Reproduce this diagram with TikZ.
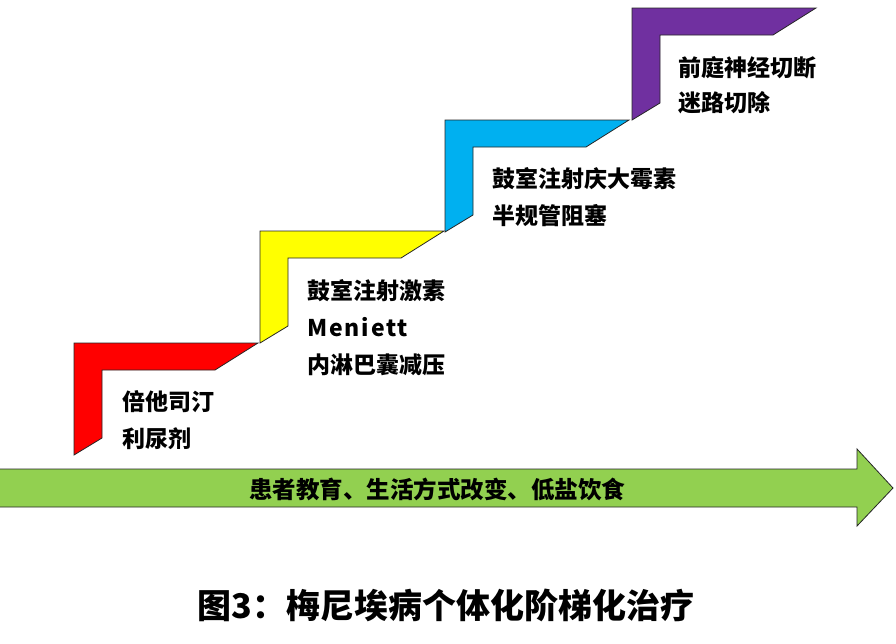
\documentclass[tikz,border=0pt]{standalone}
\usepackage{fontspec}
\newfontfamily\cjk{Noto Sans CJK SC}
\usetikzlibrary{positioning}
\definecolor{cred}{HTML}{FF0000}
\definecolor{cyellow}{HTML}{FFFF00}
\definecolor{cblue}{HTML}{00B0F0}
\definecolor{cpurple}{HTML}{7030A0}
\definecolor{cgreen}{HTML}{92D050}
\tikzset{
  every picture/.style={font=\cjk\bfseries, line width=0.8pt},
  stepshape/.style={draw=black!85, fill=#1},
  steplabel/.style={anchor=west, inner sep=0pt, font=\cjk\bfseries\fontsize{23}{27}\selectfont},
  basearrow/.style={draw=black!85, fill=cgreen},
  title/.style={font=\cjk\bfseries\fontsize{34}{39}\selectfont},
}
\begin{document}
\begin{tikzpicture}[x=1pt, y=-1pt]
  \useasboundingbox (0,0) rectangle (896,643);
  % the four steps
  \foreach \col/\x/\y in {cred/74/343, cyellow/260/231, cblue/445/120, cpurple/632/8} {
    \draw[stepshape=\col] (\x,\y) -- ++(184,0) -- ++(-43,27) -- ++(-113,0)
      -- ++(0,68) -- ++(-28,17) -- cycle;
  }
  % labels of the steps
  \foreach \txt/\x/\y [count=\i] in {倍他司汀/122/402, 利尿剂/122/439,
      鼓室注射激素/307/291, {\addfontfeature{LetterSpace=8}Meniett}/307/327, 内淋巴囊减压/307/365,
      鼓室注射庆大霉素/492/179, 半规管阻塞/492/216,
      前庭神经切断/678/68, 迷路切除/678/103} {
    \node[steplabel] (l\i) at (\x,\y) {\txt};
  }
  % base arrow
  \draw[basearrow] (-2,469) -- (857,469) -- (857,449) -- (893,488)
    -- (857,526) -- (857,507) -- (-2,507) -- cycle;
  \node[steplabel, anchor=center, font=\cjk\bfseries\fontsize{23.5}{27}\selectfont] (base) at (437,489) {患者教育、生活方式改变、低盐饮食};
  \node[title] (caption) at (446,605) {图3：梅尼埃病个体化阶梯化治疗};
\end{tikzpicture}
\end{document}
